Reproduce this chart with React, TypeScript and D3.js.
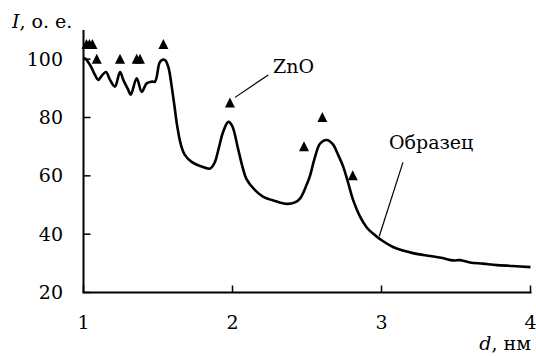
import React from "react";
import { scaleLinear, line, curveCatmullRom } from "d3";

// spectrum of the sample
const dValues = [
  1.0, 1.01, 1.044, 1.077, 1.099, 1.122, 1.151, 1.178, 1.211, 1.245, 1.267,
  1.301, 1.317, 1.357, 1.391, 1.424, 1.458, 1.48, 1.509, 1.525, 1.547, 1.569,
  1.592, 1.614, 1.626, 1.654, 1.681, 1.728, 1.782, 1.849, 1.88, 1.905, 1.938,
  1.972, 1.997, 2.039, 2.064, 2.095, 2.151, 2.207, 2.285, 2.364, 2.419, 2.453,
  2.498, 2.52, 2.554, 2.587, 2.632, 2.674, 2.708, 2.744, 2.775, 2.811, 2.856,
  2.901, 2.943, 2.99, 3.077, 3.211, 3.326, 3.41, 3.48, 3.527, 3.594, 3.68,
  3.775, 3.88, 4.0,
];
const intensity = [
  100, 100.2, 98.0, 94.6, 92.9, 94.3, 95.6, 92.9, 90.6, 95.6, 92.9, 89.4,
  87.8, 93.4, 88.8, 91.7, 92.3, 92.3, 98.6, 99.7, 99.7, 97.4, 90.6, 82.6,
  78.0, 70.6, 67.1, 64.7, 63.4, 62.5, 64.5, 68.9, 75.2, 78.5, 77.2, 68.9,
  63.7, 58.8, 55.1, 52.8, 51.4, 50.4, 50.9, 52.2, 57.0, 60.0, 66.5, 71.0,
  72.3, 70.8, 67.3, 63.0, 57.8, 51.5, 46.0, 42.3, 40.2, 38.3, 35.6, 33.5,
  32.5, 31.8, 31.0, 31.1, 30.3, 29.9, 29.4, 29.1, 28.7,
];

// reference line positions (triangles)
const markerD = [1.02, 1.04, 1.06, 1.089, 1.245, 1.357, 1.379, 1.536, 1.983, 2.48, 2.603, 2.807];
const markerI = [105, 105, 105, 100, 100, 100, 100, 105, 85, 70, 80, 60];

const xTicks = [1, 2, 3, 4];
const yTicks = [20, 40, 60, 80, 100];

const W = 536;
const H = 356;
const font = "DejaVu Serif";

export default function App() {
  const x = scaleLinear().domain([1, 4]).range([83.5, 530.5]);
  const y = scaleLinear().domain([20, 110]).range([292.5, 30]);

  const pts: [number, number][] = dValues.map((d, i) => [d, intensity[i]]);
  const path = line<[number, number]>()
    .x((p) => x(p[0]))
    .y((p) => y(p[1]))
    .curve(curveCatmullRom.alpha(0.5))(pts);

  const txt = { fontFamily: font, fontSize: 19 };

  return (
    <svg
      width={W}
      height={H}
      style={{ position: "absolute", left: 0, top: 0, background: "#fff" }}
    >
      {/* axes */}
      <line x1={x(1)} x2={x(1)} y1={y(110)} y2={y(20)} stroke="#000" strokeWidth={2} />
      <line x1={x(1) - 1} x2={x(4) + 1} y1={y(20)} y2={y(20)} stroke="#000" strokeWidth={2} />
      {yTicks.map((t) => (
        <g key={"y" + t}>
          <line x1={x(1)} x2={x(1) + 7} y1={y(t)} y2={y(t)} stroke="#000" strokeWidth={1.5} />
          <text x={63} y={y(t)} dy="0.35em" textAnchor="end" style={txt}>
            {t}
          </text>
        </g>
      ))}
      {xTicks.map((t) => (
        <g key={"x" + t}>
          <line x1={x(t)} x2={x(t)} y1={y(20)} y2={y(20) - 7} stroke="#000" strokeWidth={1.5} />
          <text x={x(t)} y={329} textAnchor="middle" style={txt}>
            {t}
          </text>
        </g>
      ))}
      <text x={12} y={28} style={txt}>
        <tspan fontStyle="italic">I</tspan>, о. е.
      </text>
      <text x={531} y={350} textAnchor="end" style={txt}>
        <tspan fontStyle="italic">d</tspan>, нм
      </text>

      {/* curve */}
      <path d={path || ""} fill="none" stroke="#000" strokeWidth={2.6} strokeLinejoin="round" />

      {/* triangles */}
      {markerD.map((d, i) => (
        <path
          key={"m" + i}
          transform={`translate(${x(d)},${y(markerI[i])})`}
          d="M0,-5.5L5,4.5L-5,4.5Z"
          fill="#000"
        />
      ))}

      {/* annotations */}
      <line x1={x(2.017)} y1={y(86.9)} x2={x(2.24)} y2={y(94.6)} stroke="#000" strokeWidth={1.2} />
      <text x={x(2.272)} y={73} style={txt}>
        ZnO
      </text>
      <line x1={x(2.985)} y1={y(39.3)} x2={x(3.144)} y2={y(64.6)} stroke="#000" strokeWidth={1.2} />
      <text x={389} y={149} style={txt}>
        Образец
      </text>
    </svg>
  );
}
